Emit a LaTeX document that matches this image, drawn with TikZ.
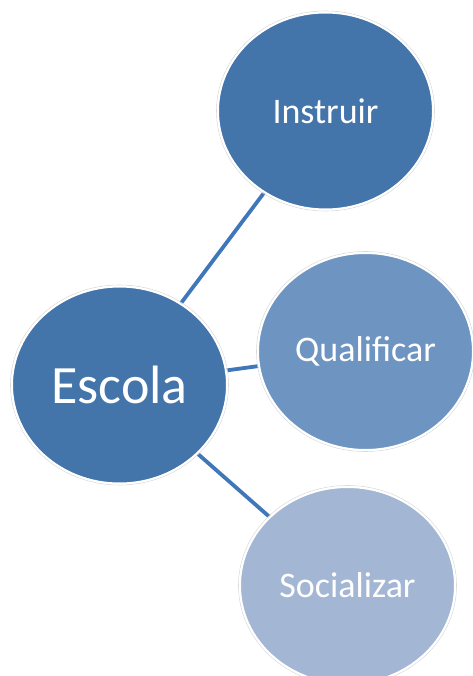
\documentclass[tikz,border=0pt]{standalone}
\usepackage{fontspec}
\setmainfont{Carlito}
\usetikzlibrary{shapes.geometric}

\definecolor{darkblob}{HTML}{4374AA}
\definecolor{midblob}{HTML}{6E95C1}
\definecolor{lightblob}{HTML}{A3B6D4}
\definecolor{linkblue}{HTML}{3F77B9}

\begin{document}
\begin{tikzpicture}[x=1pt, y=-1pt]
 \tikzset{
bubble/.style = {ellipse, draw=white, line width=2pt, inner sep=0pt, minimum width=215pt, minimum height=197pt, text=white},
rim/.style = {ellipse, draw=black!15, line width=0.6pt, inner sep=0pt, minimum width=218pt, minimum height=200pt},
link/.style = {draw=linkblue, line width=3.8pt}}

    \useasboundingbox (0,0) rectangle (472,676);

    % links first, so the bubbles hide their ends
    \coordinate (cE) at (119.5,385);
    \coordinate (cI) at (325.5,111);
    \coordinate (cQ) at (365.5,351.5);
    \coordinate (cS) at (347.5,585.5);
    \draw[link] (cE) -- (cI);
    \draw[link] (cE) -- (cQ);
    \draw[link] (cE) -- (cS);

    \node [rim] at (cE) {};
    \node [rim] at (cI) {};
    \node [rim] at (cQ) {};
    \node [rim] at (cS) {};

    \node [bubble, fill=darkblob, font=\fontsize{54}{62}\selectfont] (escola) at (cE) {Escola};
    \node [bubble, fill=darkblob, font=\fontsize{36}{42}\selectfont] (instruir) at (cI) {Instruir};
    \node [bubble, fill=midblob, font=\fontsize{36}{42}\selectfont] (qualificar) at (cQ) {Qualificar};
    \node [bubble, fill=lightblob, font=\fontsize{36}{42}\selectfont] (socializar) at (cS) {Socializar};

  \end{tikzpicture}
\end{document}
